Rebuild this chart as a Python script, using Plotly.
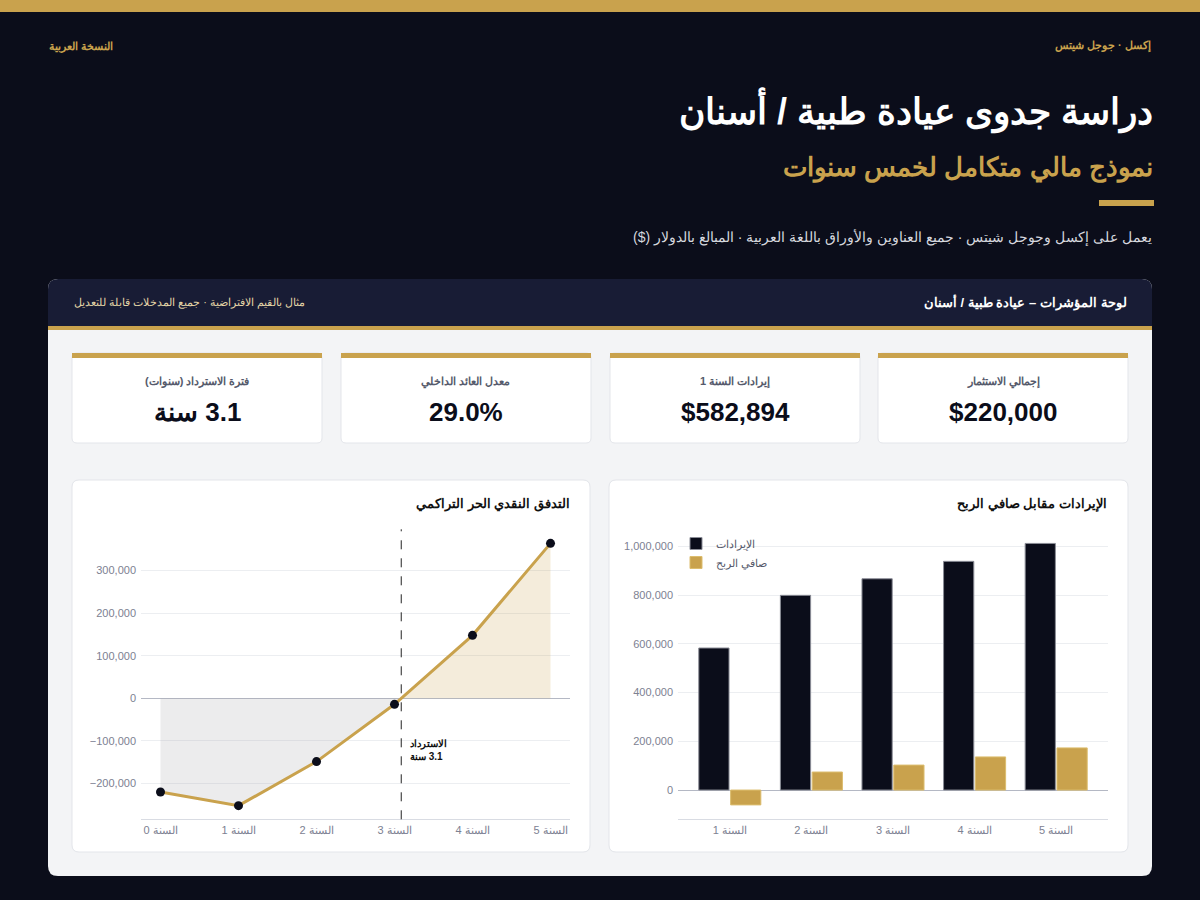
import plotly.graph_objects as go

# ---------------- data ----------------
cf_years = [0, 1, 2, 3, 4, 5]
cf_labels = ["السنة 0", "السنة 1", "السنة 2", "السنة 3", "السنة 4", "السنة 5"]
cumulative_fcf = [-220000, -252000, -148500, -14000, 148000, 364000]

bar_labels = ["السنة 1", "السنة 2", "السنة 3", "السنة 4", "السنة 5"]
revenue = [582894, 799000, 867000, 938500, 1012000]
net_profit = [-61000, 74000, 102500, 136000, 173000]

kpi_labels = ["إجمالي الاستثمار", "إيرادات السنة 1", "معدل العائد الداخلي", "فترة الاسترداد (سنوات)"]
kpi_values = ["$220,000", "$582,894", "29.0%", "3.1 سنة"]
payback_label = ["الاسترداد", "3.1 سنة"]

# ---------------- style ----------------
W, H = 1200, 900
BG = "#0b0d1a"
GOLD = "#c9a24d"
NAVY = "#181c35"
PANEL = "#f3f4f6"
FONT = "Liberation Sans, Arial, sans-serif"
RLM = "\u200f"
RLE, PDF = "\u202b", "\u202c"


def rtl(s):
    return RLE + s + PDF


def px(x):
    return x / W


def py(y):
    return 1 - y / H


def rrect(x0, y0, x1, y1, r, fill, line=None, lw=0, layer="below"):
    p = (f"M {px(x0 + r)},{py(y0)} L {px(x1 - r)},{py(y0)} "
         f"Q {px(x1)},{py(y0)} {px(x1)},{py(y0 + r)} "
         f"L {px(x1)},{py(y1 - r)} Q {px(x1)},{py(y1)} {px(x1 - r)},{py(y1)} "
         f"L {px(x0 + r)},{py(y1)} Q {px(x0)},{py(y1)} {px(x0)},{py(y1 - r)} "
         f"L {px(x0)},{py(y0 + r)} Q {px(x0)},{py(y0)} {px(x0 + r)},{py(y0)} Z")
    return dict(type="path", xref="paper", yref="paper", path=p, fillcolor=fill,
                line=dict(color=line or fill, width=lw), layer=layer)


def rect(x0, y0, x1, y1, fill, layer="below"):
    return dict(type="rect", xref="paper", yref="paper", x0=px(x0), x1=px(x1),
                y0=py(y1), y1=py(y0), fillcolor=fill, line=dict(width=0), layer=layer)


def text(s, x, y, size, color, anchor="right", bold=False):
    if bold:
        s = f"<b>{s}</b>"
    return dict(xref="paper", yref="paper", x=px(x), y=py(y), text=s, showarrow=False,
                xanchor=anchor, yanchor="middle", font=dict(size=size, color=color, family=FONT))


shapes = []
ann = []

# top gold bar
shapes.append(rect(0, 0, W, 12, GOLD))
# header texts
ann.append(text("إكسل · جوجل شيتس", 1153, 46, 11, GOLD, bold=True))
ann.append(text("النسخة العربية", 47, 46, 11, GOLD, anchor="left", bold=True))
ann.append(text("دراسة جدوى عيادة طبية / أسنان", 1155, 110, 36, "#ffffff", bold=True))
ann.append(text("نموذج مالي متكامل لخمس سنوات", 1155, 167, 26, GOLD, bold=True))
shapes.append(rect(1099, 200, 1154, 206, GOLD))
ann.append(text(RLM + "يعمل على إكسل وجوجل شيتس · جميع العناوين والأوراق باللغة العربية · المبالغ بالدولار ($)" + RLM,
                1154, 237, 14, "#d6d8df"))

# panel
shapes.append(rrect(48, 279, 1152, 876, 10, PANEL))
shapes.append(rrect(48, 279, 1152, 332, 10, NAVY))
shapes.append(rect(48, 318, 1152, 326, NAVY))
shapes.append(rect(48, 326, 1152, 330, GOLD))
shapes.append(rect(48, 330, 1152, 340, PANEL))
ann.append(text("لوحة المؤشرات – عيادة طبية / أسنان", 1129, 302, 13, "#ffffff", bold=True))
ann.append(text("مثال بالقيم الافتراضية · جميع المدخلات قابلة للتعديل", 72, 302, 11, "#e2d3a6", anchor="left"))

# KPI cards (right to left)
card_x = [(878, 1128), (610, 860), (341, 591), (72, 322)]
for (x0, x1), lab, val in zip(card_x, kpi_labels, kpi_values):
    shapes.append(rrect(x0, 353, x1, 443, 5, "#ffffff", line="#e3e5ea", lw=1))
    shapes.append(rect(x0, 353, x1, 358, GOLD))
    cx = (x0 + x1) / 2
    ann.append(text(RLM + lab + RLM, cx, 382, 11, "#555a6b", anchor="center", bold=True))
    v = rtl(val) if any("\u0600" <= ch <= "\u06ff" for ch in val) else val
    ann.append(text(v, cx, 412, 26, BG, anchor="center", bold=True))

# chart cards
shapes.append(rrect(72, 480, 590, 852, 7, "#ffffff", line="#e3e5ea", lw=1))
shapes.append(rrect(609, 480, 1128, 852, 7, "#ffffff", line="#e3e5ea", lw=1))
ann.append(text("التدفق النقدي الحر التراكمي", 572, 504, 13, "#111111", bold=True))
ann.append(text("الإيرادات مقابل صافي الربح", 1109, 504, 13, "#111111", bold=True))

fig = go.Figure()

# ---- cumulative FCF: split fill at zero crossing ----
xc = None
idx = len(cumulative_fcf)
for i in range(1, len(cumulative_fcf)):
    a, b = cumulative_fcf[i - 1], cumulative_fcf[i]
    if a < 0 <= b:
        xc = cf_years[i - 1] + (-a) / (b - a) * (cf_years[i] - cf_years[i - 1])
        idx = i
        break

neg_x = cf_years[:idx] + [xc]
neg_y = cumulative_fcf[:idx] + [0]
pos_x = [xc] + cf_years[idx:]
pos_y = [0] + cumulative_fcf[idx:]

fig.add_trace(go.Scatter(x=neg_x, y=neg_y, mode="lines", line=dict(width=0),
                         fill="tozeroy", fillcolor="rgba(170,170,175,0.22)",
                         showlegend=False, hoverinfo="skip", xaxis="x", yaxis="y"))
fig.add_trace(go.Scatter(x=pos_x, y=pos_y, mode="lines", line=dict(width=0),
                         fill="tozeroy", fillcolor="rgba(201,162,77,0.2)",
                         showlegend=False, hoverinfo="skip", xaxis="x", yaxis="y"))
fig.add_trace(go.Scatter(x=cf_years, y=cumulative_fcf, mode="lines+markers",
                         line=dict(color=GOLD, width=3),
                         marker=dict(size=9, color=BG),
                         showlegend=False, xaxis="x", yaxis="y"))

shapes.append(dict(type="line", xref="x", yref="y domain", x0=xc, x1=xc, y0=0, y1=1,
                   line=dict(color="#222222", width=1, dash="dash"), layer="above"))
ann.append(dict(xref="x", yref="y", x=xc, y=-122000, xshift=7, xanchor="left", yanchor="middle",
                align="left", showarrow=False,
                text=f"<b>{payback_label[0]}</b><br><b>{rtl(payback_label[1])}</b>",
                font=dict(size=10, color="#111111", family=FONT)))

# ---- bars ----
fig.add_trace(go.Bar(x=bar_labels, y=revenue, name="الإيرادات",
                     marker=dict(color=BG, line=dict(color="#8a8c96", width=1)),
                     xaxis="x2", yaxis="y2"))
fig.add_trace(go.Bar(x=bar_labels, y=net_profit, name="صافي الربح",
                     marker=dict(color=GOLD, line=dict(color="#dcbd6e", width=1)),
                     xaxis="x2", yaxis="y2"))

tickfont = dict(size=11, color="#7d8192", family=FONT)
ydom = [py(819.3), py(529.3)]

fig.update_layout(
    width=W, height=H, margin=dict(l=0, r=0, t=0, b=0),
    paper_bgcolor=BG, plot_bgcolor="rgba(0,0,0,0)",
    font=dict(family=FONT),
    shapes=shapes, annotations=ann,
    barmode="group", bargap=0.22, bargroupgap=0.05,
    showlegend=True,
    legend=dict(x=px(676), y=py(529), xanchor="left", yanchor="top",
                bgcolor="rgba(0,0,0,0)", font=dict(size=11, color="#555a6b", family=FONT),
                itemwidth=30, tracegroupgap=0),
    xaxis=dict(domain=[px(141), px(570)], range=[-0.25, 5.25], tickvals=cf_years, ticktext=cf_labels,
               showgrid=False, zeroline=False, showline=True, linecolor="#d9dce3", linewidth=1,
               tickfont=tickfont, ticks="", fixedrange=True),
    yaxis=dict(domain=ydom, range=[-284000, 397000], dtick=100000, tickformat=",",
               gridcolor="#eceef1", zeroline=True, zerolinecolor="#b4b8c4", zerolinewidth=1,
               tickfont=tickfont, ticks="", ticklabelstandoff=4, fixedrange=True),
    xaxis2=dict(domain=[px(678), px(1108)], range=[-0.635, 4.635], anchor="y2",
                showgrid=False, zeroline=False, showline=True, linecolor="#d9dce3", linewidth=1,
                tickfont=tickfont, ticks="", fixedrange=True),
    yaxis2=dict(domain=ydom, range=[-120000, 1070000], dtick=200000, tickformat=",", anchor="x2",
                gridcolor="#eceef1", zeroline=True, zerolinecolor="#b4b8c4", zerolinewidth=1,
                tickfont=tickfont, ticks="", ticklabelstandoff=4, fixedrange=True),
)

fig.write_html("out.html")
